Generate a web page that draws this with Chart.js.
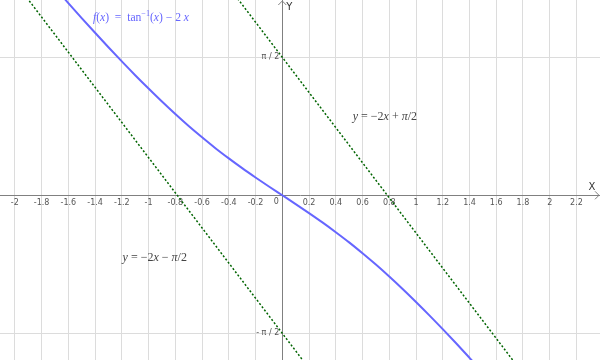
<!DOCTYPE html>
<html>
<head>
<meta charset="utf-8">
<script src="https://cdn.jsdelivr.net/npm/chart.js@4"></script>
<style>
  body { margin: 0; background: #fff; }
  canvas { display: block; }
</style>
</head>
<body>
<canvas id="myChart" width="600" height="360"></canvas>
<script>
/* data */
const curveX = [-1.7, -1.6, -1.5, -1.4, -1.3, -1.2, -1.1, -1.0, -0.9, -0.8, -0.7, -0.6, -0.5, -0.4, -0.3, -0.2, -0.1,
  0, 0.1, 0.2, 0.3, 0.4, 0.5, 0.6, 0.7, 0.8, 0.9, 1.0, 1.1, 1.2, 1.3, 1.4, 1.5];
const curveY = [2.361, 2.188, 2.017, 1.850, 1.685, 1.524, 1.367, 1.215, 1.067, 0.925, 0.789, 0.660, 0.536, 0.420, 0.309, 0.203, 0.100,
  0, -0.100, -0.203, -0.309, -0.420, -0.536, -0.660, -0.789, -0.925, -1.067, -1.215, -1.367, -1.524, -1.685, -1.850, -2.017];

// asymptotes, two end points each
const upperX = [-2.2, 2.4];
const upperY = [5.971, -3.229];
const lowerX = [-2.2, 2.4];
const lowerY = [2.829, -6.371];

const xTicks = [-2, -1.8, -1.6, -1.4, -1.2, -1, -0.8, -0.6, -0.4, -0.2, 0, 0.2, 0.4, 0.6, 0.8, 1, 1.2, 1.4, 1.6, 1.8, 2, 2.2];
const yTicks = [-Math.PI / 2, Math.PI / 2];
const yTickLabels = ['- π / 2', 'π / 2'];

const toPoints = (xs, ys) => xs.map((x, i) => ({ x: x, y: ys[i] }));

/* text drawn on top: runs of plain / italic / superscript */
const notes = [
  { x: -1.416, y: 2.03, size: 11.6, color: '#6666ff', runs: [
    { t: 'f', it: true }, { t: '(' }, { t: 'x', it: true }, { t: ')  =  tan' }, { t: '−1', sup: true },
    { t: '(' }, { t: 'x', it: true }, { t: ') − 2 ' }, { t: 'x', it: true }] },
  { x: 0.527, y: 0.903, size: 12, color: '#444', runs: [
    { t: 'y', it: true }, { t: ' = −2' }, { t: 'x', it: true }, { t: ' + ' }, { t: 'π', it: true }, { t: '/2' }] },
  { x: -1.194, y: -0.699, size: 12, color: '#444', runs: [
    { t: 'y', it: true }, { t: ' = −2' }, { t: 'x', it: true }, { t: ' − ' }, { t: 'π', it: true }, { t: '/2' }] },
];

const extras = {
  id: 'extras',
  afterDraw(chart) {
    const c = chart.ctx;
    const area = chart.chartArea;
    const sx = chart.scales.x, sy = chart.scales.y;
    const ox = sx.getPixelForValue(0), oy = sy.getPixelForValue(0);
    c.save();
    // arrows on the axes
    c.strokeStyle = '#808080';
    c.lineWidth = 1;
    c.beginPath();
    c.moveTo(area.right - 5, oy - 4);
    c.lineTo(area.right - 1, oy);
    c.lineTo(area.right - 5, oy + 4);
    c.moveTo(ox - 4, area.top + 5);
    c.lineTo(ox, area.top + 1);
    c.lineTo(ox + 4, area.top + 5);
    c.stroke();
    // axis names
    c.fillStyle = '#333';
    c.font = '10px "DejaVu Sans"';
    c.textBaseline = 'middle';
    c.textAlign = 'center';
    c.fillText('X', area.right - 8, oy - 8);
    c.fillText('Y', ox + 7, area.top + 7);
    // origin and y tick labels
    c.font = '8px "DejaVu Sans"';
    c.fillStyle = '#555';
    c.fillText('0', ox - 6, oy + 7);
    c.textAlign = 'right';
    yTicks.forEach((v, i) => c.fillText(yTickLabels[i], ox - 3, sy.getPixelForValue(v)));
    // formulas
    c.textAlign = 'left';
    c.textBaseline = 'alphabetic';
    notes.forEach(n => {
      let px = sx.getPixelForValue(n.x);
      const py = sy.getPixelForValue(n.y) + 4;
      c.fillStyle = n.color;
      n.runs.forEach(r => {
        const size = r.sup ? n.size * 0.7 : n.size;
        c.font = (r.it ? 'italic ' : '') + size + 'px "Liberation Serif"';
        c.fillText(r.t, px, r.sup ? py - 5 : py);
        px += c.measureText(r.t).width;
      });
    });
    c.restore();
  }
};

let ctx = document.getElementById('myChart').getContext('2d');
let myChart = new Chart(ctx, {
  type: 'line',
  data: {
    datasets: [
      {
        label: 'f',
        data: toPoints(curveX, curveY),
        borderColor: '#6666ff',
        borderWidth: 2,
        pointRadius: 0,
        cubicInterpolationMode: 'monotone',
        fill: false,
      },
      {
        label: 'upper',
        data: toPoints(upperX, upperY),
        borderColor: '#006400',
        borderWidth: 1.5,
        borderDash: [2, 2],
        pointRadius: 0,
        fill: false,
      },
      {
        label: 'lower',
        data: toPoints(lowerX, lowerY),
        borderColor: '#006400',
        borderWidth: 1.5,
        borderDash: [2, 2],
        pointRadius: 0,
        fill: false,
      },
    ]
  },
  options: {
    responsive: false,
    animation: false,
    devicePixelRatio: 1,
    layout: { padding: 0 },
    plugins: {
      legend: { display: false },
      tooltip: { enabled: false },
    },
    scales: {
      x: {
        type: 'linear',
        min: -2.111,
        max: 2.376,
        position: { y: 0 },
        afterBuildTicks: axis => { axis.ticks = xTicks.map(v => ({ value: v })); },
        grid: { color: '#dcdcdc', drawTicks: false },
        border: { color: '#808080', width: 1 },
        ticks: {
          autoSkip: false,
          maxRotation: 0,
          padding: 3,
          color: '#555',
          font: { family: 'DejaVu Sans', size: 8 },
          callback: v => (v === 0 ? '' : String(v)),
        },
      },
      y: {
        type: 'linear',
        min: -1.875,
        max: 2.223,
        position: { x: 0 },
        afterBuildTicks: axis => { axis.ticks = yTicks.map(v => ({ value: v })); },
        grid: { color: '#dcdcdc', drawTicks: false },
        border: { color: '#808080', width: 1 },
        // labels are drawn by the plugin so they add no padding
        ticks: { display: false },
      },
    },
  },
  plugins: [extras],
});
</script>
</body>
</html>
